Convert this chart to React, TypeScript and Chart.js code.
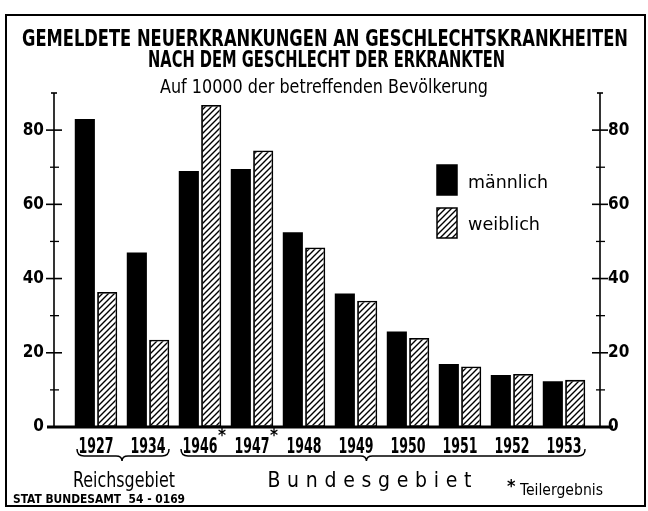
import React, { useEffect, useRef } from 'react';
import { Chart, registerables } from 'chart.js';

Chart.register(...registerables);

// ---------- data ----------
const years = ['1927', '1934', '1946', '1947', '1948', '1949', '1950', '1951', '1952', '1953'];
const maleValues = [83, 47, 69, 69.5, 52.5, 36, 25.7, 17, 14, 12.3];
const femaleValues = [36.4, 23.5, 86.8, 74.5, 48.4, 34, 24, 16.3, 14.3, 12.7];
const seriesLabels = ['männlich', 'weiblich'];
const yTickValues = [0, 20, 40, 60, 80];
const yMinorTicks = [10, 30, 50, 70];
const yMax = 90;
const partialYears = ['1946', '1947'];
const regionLabels = ['Reichsgebiet', 'Bundesgebiet'];
const regionFirst = ['1927', '1946'];
const regionLast = ['1934', '1953'];
const regionCenter = [0.5, 5.2];
const titleLines = ['GEMELDETE NEUERKRANKUNGEN AN GESCHLECHTSKRANKHEITEN', 'NACH DEM GESCHLECHT DER ERKRANKTEN'];
const subtitle = 'Auf 10000 der betreffenden Bevölkerung';
const footnote = 'Teilergebnis';
const sourceNote = 'STAT BUNDESAMT  54 - 0169';

function pickFont(cands: string[]): string {
  const ctx = document.createElement('canvas').getContext('2d');
  if (!ctx) return 'sans-serif';
  const test = 'mmmwwwlli1927ABCxyz';
  for (const f of cands) {
    let ok = true;
    for (const base of ['monospace', 'serif']) {
      ctx.font = `40px ${base}`;
      const bw = ctx.measureText(test).width;
      ctx.font = `40px '${f}', ${base}`;
      const fw = ctx.measureText(test).width;
      if (Math.abs(fw - bw) < 0.01) ok = false;
    }
    if (ok) return `'${f}'`;
  }
  return 'sans-serif';
}

function makeHatch(): CanvasPattern | string {
  const c = document.createElement('canvas');
  c.width = 6;
  c.height = 6;
  const g = c.getContext('2d');
  if (!g) return '#fff';
  g.fillStyle = '#fff';
  g.fillRect(0, 0, 6, 6);
  g.strokeStyle = '#000';
  g.lineWidth = 1.4;
  g.beginPath();
  g.moveTo(-1, 7); g.lineTo(7, -1);
  g.moveTo(-4, 4); g.lineTo(4, -4);
  g.moveTo(2, 10); g.lineTo(10, 2);
  g.stroke();
  const p = g.createPattern(c, 'repeat');
  return p || '#fff';
}

function fitText(ctx: CanvasRenderingContext2D, text: string, cx: number, baseline: number, width: number, font: string) {
  ctx.font = font;
  const w = ctx.measureText(text).width || 1;
  ctx.save();
  ctx.translate(cx, baseline);
  ctx.scale(width / w, 1);
  ctx.textAlign = 'center';
  ctx.textBaseline = 'alphabetic';
  ctx.fillText(text, 0, 0);
  ctx.restore();
}

function spacedText(ctx: CanvasRenderingContext2D, text: string, cx: number, baseline: number, width: number, font: string) {
  ctx.font = font;
  const chars = text.split('');
  const ws = chars.map((ch) => ctx.measureText(ch).width);
  const total = ws.reduce((a, b) => a + b, 0);
  const gap = (width - total) / (chars.length - 1);
  let x = cx - width / 2;
  ctx.textAlign = 'left';
  ctx.textBaseline = 'alphabetic';
  chars.forEach((ch, i) => {
    ctx.fillText(ch, x, baseline);
    x += ws[i] + gap;
  });
}

function line(ctx: CanvasRenderingContext2D, x1: number, y1: number, x2: number, y2: number) {
  ctx.beginPath();
  ctx.moveTo(x1, y1);
  ctx.lineTo(x2, y2);
  ctx.stroke();
}

export default function App() {
  const ref = useRef<HTMLCanvasElement | null>(null);

  useEffect(() => {
    const canvas = ref.current;
    if (!canvas) return;
    const narrow = pickFont(['Liberation Sans Narrow', 'DejaVu Sans Condensed', 'Roboto Condensed', 'Open Sans Condensed', 'Roboto']);
    const fam = `${narrow}, 'Liberation Sans', 'DejaVu Sans', sans-serif`;
    const hatch = makeHatch();

    const decor = {
      id: 'decor',
      afterDatasetsDraw(chart: any) {
        const ctx: CanvasRenderingContext2D = chart.ctx;
        const { left, right } = chart.chartArea;
        const y = chart.scales.y;
        const y0 = y.getPixelForValue(0);
        const yTop = y.getPixelForValue(yMax);
        ctx.save();
        ctx.strokeStyle = '#000';
        for (const ax of [left, right]) {
          ctx.lineWidth = 1.6;
          line(ctx, ax, yTop, ax, y0);
          line(ctx, ax - 3, yTop, ax + 3, yTop);
          yTickValues.filter((v) => v > 0).forEach((v) => {
            const py = y.getPixelForValue(v);
            ctx.lineWidth = 1.6;
            line(ctx, ax - 8, py, ax + 8, py);
          });
          yMinorTicks.forEach((v) => {
            const py = y.getPixelForValue(v);
            ctx.lineWidth = 1.3;
            line(ctx, ax - 4, py, ax + 5, py);
          });
        }
        ctx.lineWidth = 3;
        line(ctx, left - 7, y0, right + 13, y0);
        ctx.restore();
      },
      afterDraw(chart: any) {
        const ctx: CanvasRenderingContext2D = chart.ctx;
        const x = chart.scales.x;
        const y = chart.scales.y;
        const y0 = y.getPixelForValue(0);
        ctx.save();
        ctx.fillStyle = '#000';
        ctx.strokeStyle = '#000';
        // frame
        ctx.lineWidth = 2;
        ctx.strokeRect(6, 15, 639, 491);
        // titles
        fitText(ctx, titleLines[0], 325, 46, 606, `bold 23px ${fam}`);
        fitText(ctx, titleLines[1], 326.5, 67, 357, `bold 23px ${fam}`);
        fitText(ctx, subtitle, 324, 93, 328, `19px ${fam}`);

        // category labels (from the x scale) and asterisks after partial years
        years.forEach((yr, i) => {
          const px = x.getPixelForValue(i);
          fitText(ctx, yr, px, y0 + 26, 35, `bold 22px ${fam}`);
          if (partialYears.includes(yr)) {
            ctx.font = `bold 17px ${fam}`;
            ctx.textAlign = 'left';
            ctx.textBaseline = 'alphabetic';
            ctx.fillText('*', px + 18, y0 + 14);
          }
        });

        // braces and region labels
        regionLabels.forEach((lab, r) => {
          const x1 = x.getPixelForValue(years.indexOf(regionFirst[r])) - 19;
          const x2 = x.getPixelForValue(years.indexOf(regionLast[r])) + 21;
          const tip = x.getPixelForValue(regionCenter[r]);
          const by = y0 + 29;
          ctx.lineWidth = 1.5;
          ctx.beginPath();
          ctx.moveTo(x1, by - 7);
          ctx.quadraticCurveTo(x1, by, x1 + 7, by);
          ctx.lineTo(tip - 6, by);
          ctx.quadraticCurveTo(tip, by, tip, by + 5);
          ctx.quadraticCurveTo(tip, by, tip + 6, by);
          ctx.lineTo(x2 - 7, by);
          ctx.quadraticCurveTo(x2, by, x2, by - 7);
          ctx.stroke();
          if (r === 0) {
            fitText(ctx, lab, tip + 2, 487, 102, `21px ${fam}`);
          } else {
            spacedText(ctx, lab, tip + 3, 487, 204, `21px ${fam}`);
          }
        });

        // footnote & source
        ctx.font = `bold 18px ${fam}`;
        ctx.textAlign = 'left';
        ctx.textBaseline = 'alphabetic';
        ctx.fillText('*', 507, 492);
        fitText(ctx, footnote, 561.5, 495, 83, `15px ${fam}`);
        fitText(ctx, sourceNote, 99, 503, 172, `bold 12px ${fam}`);

        // legend
        chart.data.datasets.forEach((ds: any, i: number) => {
          const bx = 437;
          const by = 165 + i * 43;
          ctx.fillStyle = ds.backgroundColor;
          ctx.fillRect(bx, by, 20, 30);
          ctx.strokeStyle = '#000';
          ctx.lineWidth = 1.5;
          ctx.strokeRect(bx, by, 20, 30);
          ctx.fillStyle = '#000';
          const w = i === 0 ? 80 : 72;
          fitText(ctx, ds.label, 468 + w / 2, 188 + i * 42, w, `17px ${fam}`);
        });
        ctx.restore();
      },
    };

    const chart = new Chart(canvas, {
      type: 'bar',
      data: {
        datasets: [
          {
            label: seriesLabels[0],
            data: maleValues.map((v, i) => ({ x: i, y: v })),
            backgroundColor: '#000',
            borderWidth: 0,
          },
          {
            label: seriesLabels[1],
            data: femaleValues.map((v, i) => ({ x: i, y: v })),
            backgroundColor: hatch as any,
            borderColor: '#000',
            borderWidth: 1.8,
            borderSkipped: false,
          },
        ],
      },
      options: {
        animation: false,
        responsive: false,
        devicePixelRatio: 1,
        layout: { padding: { top: 93, left: 0, right: 0, bottom: 0 } },
        datasets: { bar: { categoryPercentage: 0.86, barPercentage: 0.9 } },
        plugins: {
          legend: { display: false },
          tooltip: { enabled: false },
          title: { display: false },
        },
        scales: {
          x: {
            type: 'linear',
            offset: false,
            min: -0.808,
            max: 9.692,
            grid: { display: false, drawTicks: false, offset: false },
            border: { display: false },
            afterBuildTicks: (s: any) => {
              s.ticks = years.map((_, i) => ({ value: i }));
            },
            afterFit: (s: any) => {
              s.height = 84;
            },
            ticks: { display: false },
          },
          y: {
            type: 'linear',
            position: 'left',
            min: 0,
            max: yMax,
            grid: { display: false, drawTicks: false },
            border: { display: false },
            afterBuildTicks: (s: any) => {
              s.ticks = yTickValues.map((v) => ({ value: v }));
            },
            afterFit: (s: any) => {
              s.width = 54;
            },
            ticks: {
              padding: 10,
              color: '#000',
              font: { family: fam, size: 17, weight: 'bold' },
            },
          },
          y2: {
            type: 'linear',
            position: 'right',
            min: 0,
            max: yMax,
            grid: { display: false, drawTicks: false },
            border: { display: false },
            afterBuildTicks: (s: any) => {
              s.ticks = yTickValues.map((v) => ({ value: v }));
            },
            afterFit: (s: any) => {
              s.width = 48;
            },
            ticks: {
              padding: 8,
              color: '#000',
              font: { family: fam, size: 17, weight: 'bold' },
            },
          },
        },
      } as any,
      plugins: [decor],
    });
    return () => chart.destroy();
  }, []);

  return (
    <div style={{ position: 'fixed', left: 0, top: 0, width: 648, height: 511, background: '#fff' }}>
      <canvas ref={ref} width={648} height={511} style={{ display: 'block', width: 648, height: 511 }} />
    </div>
  );
}
